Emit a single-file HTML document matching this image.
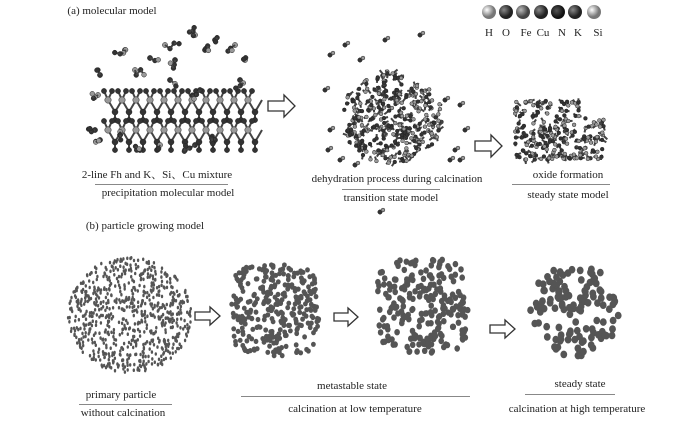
<!DOCTYPE html>
<html><head><meta charset="utf-8">
<style>
html,body{margin:0;padding:0;background:#fff;}
body{width:700px;height:424px;overflow:hidden;position:relative;font-family:"Liberation Serif","Noto Serif CJK SC",serif;color:#222;}
.t{position:absolute;font-size:11px;white-space:nowrap;transform:translateX(-50%);line-height:12px;}
.l{position:absolute;height:1px;background:#888;}
svg{position:absolute;left:0;top:0;}
</style></head><body>
<svg id="s" width="700" height="424" viewBox="0 0 700 424">
<defs>
<radialGradient id="gH" cx="35%" cy="35%"><stop offset="0" stop-color="#fff"/><stop offset="1" stop-color="#777"/></radialGradient>
<radialGradient id="gO" cx="35%" cy="35%"><stop offset="0" stop-color="#888"/><stop offset="1" stop-color="#222"/></radialGradient>
<radialGradient id="gFe" cx="35%" cy="35%"><stop offset="0" stop-color="#bbb"/><stop offset="1" stop-color="#444"/></radialGradient>
<radialGradient id="gN" cx="40%" cy="40%"><stop offset="0" stop-color="#555"/><stop offset="1" stop-color="#111"/></radialGradient>
</defs>
<g id="mol"></g>
<g id="par" fill="#555"></g>
<g fill="#fff" stroke="#333" stroke-width="1.3">
<polygon points="268,101 284,101 284,95 295,106 284,117 284,111 268,111"/>
<polygon points="475,141 491,141 491,135 502,146 491,157 491,151 475,151"/>
<polygon points="195,312 210,312 210,307 220,316 210,325 210,320 195,320"/>
<polygon points="334,313 348,313 348,308 358,317 348,326 348,321 334,321"/>
<polygon points="490,325 505,325 505,320 515,329 505,338 505,333 490,333"/>
</g>
<circle cx="489" cy="12" r="7" fill="url(#gH)"/>
<circle cx="506" cy="12" r="7" fill="url(#gO)"/>
<circle cx="523" cy="12" r="7" fill="url(#gFe)"/>
<circle cx="541" cy="12" r="7" fill="url(#gO)"/>
<circle cx="558" cy="12" r="7" fill="url(#gN)"/>
<circle cx="575" cy="12" r="7" fill="url(#gO)"/>
<circle cx="594" cy="12" r="7" fill="url(#gH)"/>
<g font-family="Liberation Serif,serif" font-size="11" fill="#222" text-anchor="middle">
<text x="489" y="36">H</text><text x="506" y="36">O</text><text x="526" y="36">Fe</text><text x="543" y="36">Cu</text><text x="562" y="36">N</text><text x="578" y="36">K</text><text x="598" y="36">Si</text>
</g>
</svg>
<div class="t" style="left:112px;top:5px;">(a) molecular model</div>
<div class="t" style="left:145px;top:220px;">(b) particle growing model</div>

<div class="t" style="left:157px;top:169px;">2-line Fh and K、Si、Cu mixture</div>
<div class="l" style="left:95px;width:133px;top:184px;"></div>
<div class="t" style="left:168px;top:187px;">precipitation molecular model</div>

<div class="t" style="left:397px;top:173px;">dehydration process during calcination</div>
<div class="l" style="left:342px;width:98px;top:189px;"></div>
<div class="t" style="left:391px;top:192px;">transition state model</div>

<div class="t" style="left:568px;top:169px;">oxide formation</div>
<div class="l" style="left:512px;width:98px;top:184px;"></div>
<div class="t" style="left:568px;top:189px;">steady state model</div>

<div class="t" style="left:121px;top:389px;">primary particle</div>
<div class="l" style="left:79px;width:93px;top:404px;"></div>
<div class="t" style="left:123px;top:407px;">without calcination</div>

<div class="t" style="left:352px;top:380px;">metastable state</div>
<div class="l" style="left:241px;width:229px;top:396px;"></div>
<div class="t" style="left:355px;top:403px;">calcination at low temperature</div>

<div class="t" style="left:580px;top:378px;">steady state</div>
<div class="l" style="left:525px;width:90px;top:394px;"></div>
<div class="t" style="left:577px;top:403px;">calcination at high temperature</div>

<script>
var seed=11;function r(){seed=(seed*16807)%2147483647;return (seed-1)/2147483646;}
var NS="http://www.w3.org/2000/svg";
var mol=document.getElementById("mol"),par=document.getElementById("par");
function el(p,t,a){var e=document.createElementNS(NS,t);for(var k in a)e.setAttribute(k,a[k]);p.appendChild(e);return e;}
function atom(x,y,rr,light){el(mol,"circle",{cx:x,cy:y,r:rr,fill:light?"#999":"#333",stroke:"#222","stroke-width":0.5});}
function bond(x1,y1,x2,y2){el(mol,"line",{x1:x1,y1:y1,x2:x2,y2:y2,stroke:"#444","stroke-width":2});}
function small(x,y){var n=2+Math.floor(r()*3),px=x,py=y;atom(px,py,2.6,r()<0.3);for(var i=0;i<n;i++){var nx=px+(r()-0.5)*11,ny=py+(r()-0.5)*11;bond(px,py,nx,ny);atom(nx,ny,2.4,r()<0.3);px=nx;py=ny;}}
for(var row=0;row<2;row++){for(var i=0;i<11;i++){var x=108+i*14,y=100+row*30;
 bond(x,y,x+7,y+12);bond(x+7,y+12,x+14,y);bond(x,y,x-4,y-9);bond(x,y,x+4,y-9);bond(x+7,y+12,x+7,y+20);
 atom(x,y,3.2,true);atom(x+7,y+12,3,false);atom(x-4,y-9,2.6,false);atom(x+4,y-9,2.6,false);atom(x+7,y+20,2.6,false);}}
var smalls=[[100,75],[98,95],[125,50],[135,70],[150,58],[165,45],[175,60],[195,35],[205,50],[215,40],[235,45],[245,60],[95,130],[100,140],[140,150],[160,145],[195,145],[215,140],[170,80],[200,90],[240,80],[120,135]];
smalls.forEach(function(p){small(p[0],p[1]);});
for(var i=0;i<320;i++){var a=r()*6.28,d=Math.sqrt(r());var x=392+Math.cos(a)*d*50,y=118+Math.sin(a)*d*47;if(x>405&&y<85)continue;var x2=x+(r()-0.5)*10,y2=y+(r()-0.5)*10;bond(x,y,x2,y2);atom(x,y,1.9,r()<0.45);}
var s2=[[330,55],[345,45],[360,60],[385,40],[420,35],[325,90],[330,130],[328,150],[340,160],[355,165],[450,160],[445,100],[460,105],[465,130],[455,150],[460,160],[380,212]];
s2.forEach(function(p){atom(p[0],p[1],2.2,false);atom(p[0]+3,p[1]-2,1.9,true);});
for(var i=0;i<220;i++){var x=514+r()*90,y=100+r()*60;if(x>580&&y<118&&r()<0.7)continue;var x2=x+(r()-0.5)*9,y2=y+(r()-0.5)*9;bond(x,y,x2,y2);atom(x,y,1.9,r()<0.45);}
function blob(cx,cy,rx,ry,n,ex,ey,sq){for(var i=0;i<n;i++){var a=r()*6.28,d=Math.sqrt(r());var x=cx+Math.cos(a)*d*rx,y=cy+Math.sin(a)*d*ry;
 if(sq){x=cx+(r()*2-1)*rx;y=cy+(r()*2-1)*ry;var nx=(x-cx)/rx,ny=(y-cy)/ry;if(nx*nx*nx*nx+ny*ny*ny*ny>1)continue;}
 el(par,"ellipse",{cx:x.toFixed(1),cy:y.toFixed(1),rx:ex,ry:ey});}}
blob(130,315,62,58,750,1.2,1.8,false);
blob(275,310,44,46,330,2.4,2.6,true);
blob(423,306,46,47,230,2.8,3.2,true);
blob(575,310,45,46,130,3.4,3.8,false);
</script>
</body></html>
